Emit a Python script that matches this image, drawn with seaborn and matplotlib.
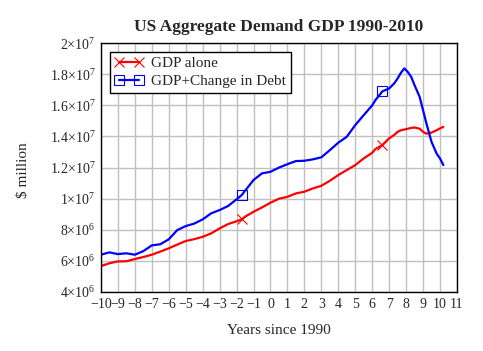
import numpy as np
import pandas as pd
import seaborn as sns
import matplotlib
matplotlib.use("Agg")
import matplotlib.pyplot as plt

# years since 1990
YEARS = [-10, -9.5, -9, -8.5, -8, -7.5, -7, -6.5, -6, -5.5, -5, -4.5, -4, -3.5,
         -3, -2.5, -2, -1.7, -1.5, -1, -0.5, 0, 0.5, 1, 1.5, 2, 2.5, 3, 3.5, 4,
         4.5, 5, 5.5, 6, 6.2, 6.6, 7, 7.3, 7.5, 7.7, 7.9, 8.1, 8.3, 8.5, 8.8,
         9, 9.2, 9.5, 9.8, 10, 10.2]

# $ million, in units of 1e6
GDP_ALONE = [5.67, 5.85, 5.97, 5.98, 6.12, 6.25, 6.40, 6.60, 6.81, 7.05, 7.28,
             7.40, 7.55, 7.77, 8.09, 8.37, 8.55, 8.67, 8.84, 9.16, 9.44, 9.74,
             10.00, 10.12, 10.34, 10.45, 10.66, 10.83, 11.15, 11.52, 11.84,
             12.16, 12.59, 12.95, 13.20, 13.45, 13.88, 14.10, 14.30, 14.40,
             14.45, 14.50, 14.55, 14.58, 14.50, 14.30, 14.18, 14.25, 14.40,
             14.52, 14.62]

GDP_DEBT = [6.40, 6.55, 6.44, 6.49, 6.40, 6.63, 7.00, 7.07, 7.39, 7.98, 8.24,
            8.40, 8.67, 9.06, 9.27, 9.53, 9.96, 10.23, 10.51, 11.20, 11.63,
            11.73, 12.00, 12.22, 12.42, 12.44, 12.53, 12.66, 13.12, 13.60,
            13.98, 14.73, 15.37, 16.00, 16.35, 16.90, 17.09, 17.41, 17.73,
            18.10, 18.38, 18.15, 17.84, 17.30, 16.55, 15.70, 14.84, 13.66,
            12.91, 12.59, 12.16]

Y_TICKS = [4e6, 6e6, 8e6, 1e7, 1.2e7, 1.4e7, 1.6e7, 1.8e7, 2e7]
Y_TICK_LABELS = [r"$4{\times}10^{6}$", r"$6{\times}10^{6}$", r"$8{\times}10^{6}$",
                 r"$1{\times}10^{7}$", r"$1.2{\times}10^{7}$", r"$1.4{\times}10^{7}$",
                 r"$1.6{\times}10^{7}$", r"$1.8{\times}10^{7}$", r"$2{\times}10^{7}$"]
X_TICKS = list(range(-10, 12))

MARK_IDX = [YEARS.index(-1.7), YEARS.index(6.6)]

df = pd.DataFrame({
    "year": YEARS,
    "alone": np.array(GDP_ALONE) * 1e6,
    "debt": np.array(GDP_DEBT) * 1e6,
})

sns.set_style("white")
plt.rcParams["font.family"] = ["Liberation Serif", "DejaVu Serif"]
plt.rcParams["mathtext.fontset"] = "custom"
plt.rcParams["mathtext.rm"] = "Liberation Serif"
plt.rcParams["mathtext.it"] = "Liberation Serif"

fig = plt.figure(figsize=(4.83, 3.51), dpi=100)
ax = fig.add_axes([0.209, 0.168, 0.737, 0.709])

sns.lineplot(data=df, x="year", y="alone", color="#ff0000", linewidth=1.6,
             marker="x", markersize=7, markeredgewidth=0.8,
             markeredgecolor="#ff0000", markevery=MARK_IDX,
             estimator=None, label="GDP alone", ax=ax)
sns.lineplot(data=df, x="year", y="debt", color="#0000ff", linewidth=1.6,
             marker="s", markersize=6.5, markerfacecolor="none",
             markeredgecolor="#0000ff", markeredgewidth=0.8, markevery=MARK_IDX,
             estimator=None, label="GDP+Change in Debt", ax=ax)

ax.set_xlim(-10, 11)
ax.set_ylim(4e6, 2e7)
ax.set_xticks(X_TICKS)
ax.set_yticks(Y_TICKS)
ax.set_yticklabels(Y_TICK_LABELS)
ax.tick_params(length=0, labelsize=10, pad=4)
ax.grid(True, color="#c0c0c0", linewidth=1, linestyle="-")
ax.set_axisbelow(True)
for sp in ax.spines.values():
    sp.set_color("black")
    sp.set_linewidth(1)

ax.set_xlabel("Years since 1990", fontsize=11)
ax.xaxis.set_label_coords(0.5, -0.13)
ax.set_ylabel("$ million", fontsize=11)
ax.yaxis.set_label_coords(-0.2, 0.49)
ax.set_title("US Aggregate Demand GDP 1990-2010", fontsize=12.5,
             fontweight="bold", pad=9)

leg = ax.legend(loc="upper left", bbox_to_anchor=(0.025, 0.965),
                borderaxespad=0, fontsize=11, numpoints=2, fancybox=False,
                framealpha=1, edgecolor="black", handlelength=1.9,
                borderpad=0.3, labelspacing=0.3, handletextpad=0.5)
leg.get_frame().set_linewidth(1)

fig.savefig("out.png", dpi=100)
